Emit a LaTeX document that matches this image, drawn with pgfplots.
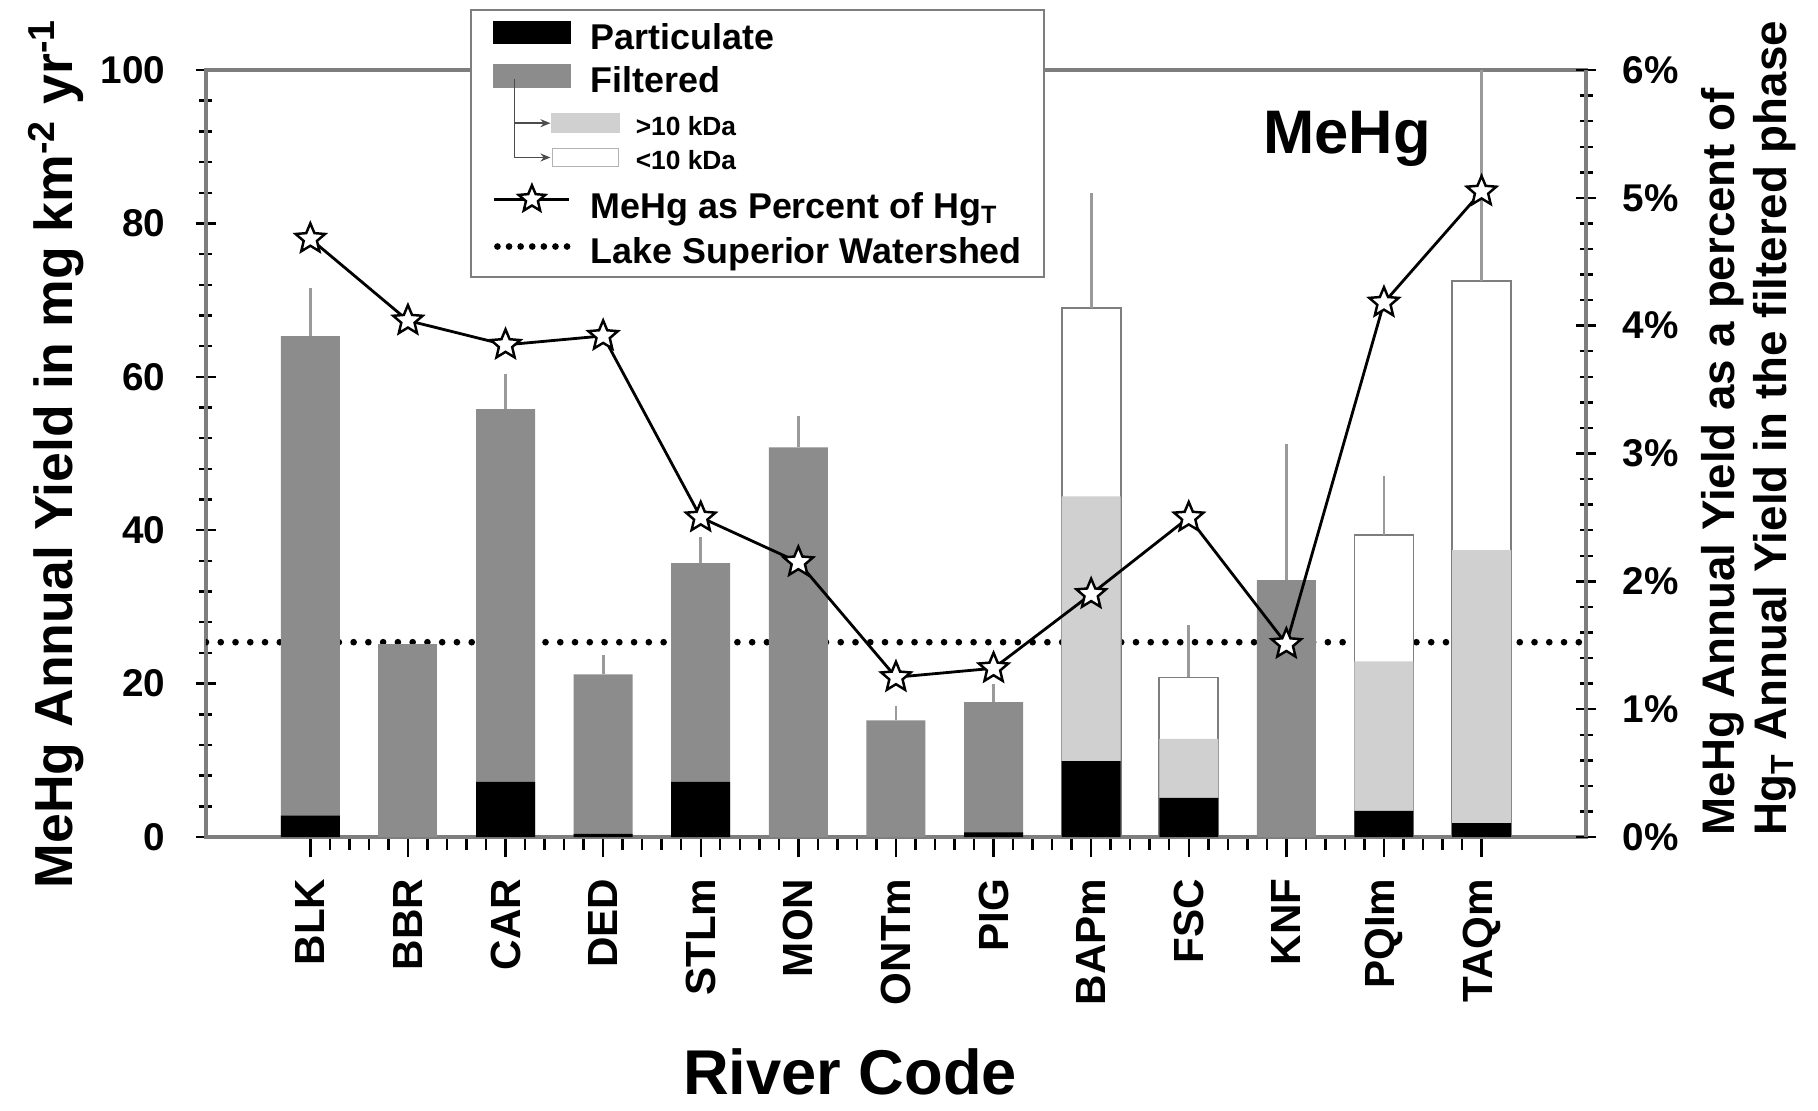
\documentclass[border=0pt]{standalone}
\usepackage{fontspec}
\setmainfont{Liberation Sans}
\usepackage{pgfplots}
\pgfplotsset{compat=1.18}
\usetikzlibrary{arrows.meta}

\definecolor{filt}{HTML}{8C8C8C}
\definecolor{gtten}{HTML}{D0D0D0}
\definecolor{axgray}{HTML}{7E7E7E}
\definecolor{errgray}{HTML}{9A9A9A}

\pgfdeclareplotmark{ostar}{%
  \pgfpathmoveto{\pgfpointpolar{90}{\pgfplotmarksize}}%
  \pgfpathlineto{\pgfpointpolar{126}{0.45\pgfplotmarksize}}%
  \pgfpathlineto{\pgfpointpolar{162}{\pgfplotmarksize}}%
  \pgfpathlineto{\pgfpointpolar{198}{0.45\pgfplotmarksize}}%
  \pgfpathlineto{\pgfpointpolar{234}{\pgfplotmarksize}}%
  \pgfpathlineto{\pgfpointpolar{270}{0.45\pgfplotmarksize}}%
  \pgfpathlineto{\pgfpointpolar{306}{\pgfplotmarksize}}%
  \pgfpathlineto{\pgfpointpolar{342}{0.45\pgfplotmarksize}}%
  \pgfpathlineto{\pgfpointpolar{18}{\pgfplotmarksize}}%
  \pgfpathlineto{\pgfpointpolar{54}{0.45\pgfplotmarksize}}%
  \pgfpathclose
  \pgfusepathqfillstroke
}

\begin{document}
\begin{tikzpicture}
\useasboundingbox (-2.06cm,-2.73cm) rectangle (16.12cm,8.37cm);

\begin{axis}[
  at={(0,0)}, anchor=south west,
  scale only axis, width=13.80cm, height=7.67cm,
  xmin=-0.069, xmax=14.07, ymin=0, ymax=100,
  xtick={1,...,13},
  xticklabels={BLK,BBR,CAR,DED,STLm,MON,ONTm,PIG,BAPm,FSC,KNF,PQIm,TAQm},
  minor x tick num=4,
  ytick={0,20,...,100}, minor y tick num=4,
  xtick pos=bottom, ytick pos=left,
  xtick align=outside, ytick align=center,
  major tick length=0.2cm, minor tick length=0.13cm,
  axis line style={axgray, line width=1pt},
  tick style={black, line width=0.7pt},
  /pgf/number format/assume math mode=true,
  yticklabel style={font=\bfseries\fontsize{11}{13}\selectfont, anchor=east, inner sep=0pt, xshift=-0.3cm},
  xticklabel style={font=\bfseries\fontsize{12}{14}\selectfont, rotate=90, anchor=east, inner sep=0pt},
  xticklabel shift=0.21cm,
  xlabel={River Code},
  xlabel style={font=\bfseries\fontsize{18}{21}\selectfont, at={(axis description cs:0.4667,-0.306)}, anchor=center},
  ylabel={MeHg Annual Yield in mg km\textsuperscript{-2} yr\textsuperscript{-1}},
  ylabel style={font=\bfseries\fontsize{15.25}{17}\selectfont, at={(axis description cs:-0.1087,0.5)}, rotate=0, anchor=center},
  legend cell align=left,
  legend style={at={(0.1913,1.0795)}, anchor=north west, draw=axgray, line width=0.6pt, fill=white,
    inner xsep=0.22cm, inner ysep=0.01cm, column sep=0.18cm, row sep=0pt,
    nodes={inner sep=0pt, font=\bfseries\fontsize{10.2}{11.5}\selectfont}},
  clip=true,
]
% Lake Superior watershed reference line
\addplot[forget plot, black, line width=1.9pt, line cap=round, dash pattern=on 0pt off 4.2pt]
  coordinates {(-0.069,25.4) (14.07,25.4)};

% filtered-only bars (total height) with error bars
\addplot[forget plot, ybar, bar width=0.59cm, bar shift=0pt, fill=filt, draw=none,
  error bars/.cd, y dir=plus, y explicit,
  error bar style={errgray, line width=0.8pt},
  error mark=-, error mark options={errgray, line width=0.8pt, mark size=1.8pt}]
  coordinates {
  (1,65.3) +- (0,5.5)
  (3,55.8) +- (0,3.8)
  (4,21.2) +- (0,1.7)
  (5,35.7) +- (0,2.6)
  (6,50.8) +- (0,3.3)
  (7,15.2) +- (0,1.0)
  (8,17.6) +- (0,1.5)
  (11,33.5) +- (0,16.9)
  };
\addplot[forget plot, ybar, bar width=0.59cm, bar shift=0pt, fill=filt, draw=none]
  coordinates {(2,25.1)};

% fractionated bars: total (<10 kDa on top) with error bars
\addplot[forget plot, ybar, bar width=0.59cm, bar shift=0pt, fill=white, draw=axgray, line width=0.5pt,
  error bars/.cd, y dir=plus, y explicit,
  error bar style={errgray, line width=0.8pt},
  error mark=-, error mark options={errgray, line width=0.8pt, mark size=1.8pt}]
  coordinates {
  (9,69.0) +- (0,14.1)
  (10,20.8) +- (0,6.0)
  (12,39.4) +- (0,6.8)
  (13,72.5) +- (0,30)
  };
% particulate + >10 kDa (cumulative)
\addplot[forget plot, ybar, bar width=0.59cm, bar shift=0pt, fill=gtten, draw=none]
  coordinates {(9,44.4) (10,12.8) (12,22.9) (13,37.4)};
% particulate
\addplot[forget plot, ybar, bar width=0.59cm, bar shift=0pt, fill=black, draw=none]
  coordinates {(1,2.8) (3,7.2) (4,0.4) (5,7.2) (8,0.6) (9,9.9) (10,5.1) (12,3.4) (13,1.8)};

\node[font=\bfseries\fontsize{17.5}{20}\selectfont] at (axis description cs:0.827,0.910) {MeHg};

% legend
\addlegendimage{legend image code/.code={\fill[black] (0cm,-0.105cm) rectangle (0.75cm,0.105cm);}}
\addlegendentry{\rule[-0.14cm]{0pt}{0.52cm}Particulate}
\addlegendimage{legend image code/.code={\fill[filt] (0cm,-0.105cm) rectangle (0.75cm,0.105cm);
  \path (0cm,-0.29cm);}}
\addlegendentry{\rule[-0.14cm]{0pt}{0.52cm}Filtered}
\addlegendimage{legend image code/.code={%
  \draw[overlay, black!70, line width=0.5pt] (0.2cm,0.44cm) -- (0.2cm,0cm);
  \draw[overlay, black!70, line width=0.5pt, -{Stealth[length=1mm,width=0.8mm]}] (0.2cm,0cm) -- (0.56cm,0cm);
  \fill[overlay, gtten] (0.58cm,-0.09cm) rectangle (1.24cm,0.09cm);
  \path (0cm,0cm) (0.75cm,0cm);}}
\addlegendentry{\hspace{0.45cm}\fontsize{7.5}{9}\selectfont\rule[-0.11cm]{0pt}{0.40cm}>10 kDa}
\addlegendimage{legend image code/.code={%
  \draw[overlay, black!70, line width=0.5pt] (0.2cm,0.40cm) -- (0.2cm,0cm);
  \draw[overlay, black!70, line width=0.5pt, -{Stealth[length=1mm,width=0.8mm]}] (0.2cm,0cm) -- (0.56cm,0cm);
  \draw[overlay, black!30, line width=0.4pt, fill=white] (0.58cm,-0.09cm) rectangle (1.24cm,0.09cm);
  \path (0cm,0cm) (0.75cm,0cm);}}
\addlegendentry{\hspace{0.45cm}\fontsize{7.5}{9}\selectfont\rule[-0.11cm]{0pt}{0.40cm}<10 kDa}
\addlegendimage{legend image code/.code={%
  \draw[black, line width=0.8pt, mark=ostar, mark size=1.4mm, mark repeat=2, mark phase=2,
    mark options={fill=white, line width=0.7pt}] plot coordinates {(0cm,0cm) (0.375cm,0cm) (0.75cm,0cm)};}}
\addlegendentry{\rule[-0.14cm]{0pt}{0.58cm}MeHg as Percent of Hg\textsubscript{T}}
\addlegendimage{legend image code/.code={%
  \draw[black, line width=1.9pt, line cap=round, dash pattern=on 0pt off 3.3pt] (0.03cm,0cm) -- (0.75cm,0cm);
  \path (0cm,-0.28cm);}}
\addlegendentry{\rule[-0.14cm]{0pt}{0.54cm}Lake Superior Watershed}
\end{axis}

\begin{axis}[
  at={(0,0)}, anchor=south west,
  scale only axis, width=13.80cm, height=7.67cm,
  xmin=-0.069, xmax=14.07, ymin=0, ymax=6,
  axis x line=none, axis y line*=right,
  ytick={0,1,...,6}, minor y tick num=4,
  ytick align=center,
  major tick length=0.2cm, minor tick length=0.13cm,
  axis line style={axgray, line width=1pt},
  tick style={black, line width=0.7pt},
  /pgf/number format/assume math mode=true,
  yticklabel={\pgfmathprintnumber{\tick}\%},
  yticklabel style={font=\bfseries\fontsize{11}{13}\selectfont, anchor=west, inner sep=0pt, xshift=0.26cm},
  ylabel={MeHg Annual Yield as a percent of\\Hg\textsubscript{T} Annual Yield in the filtered phase},
  ylabel style={font=\bfseries\fontsize{13.0}{14.6}\selectfont, align=left, at={(axis description cs:1.118,0.533)}, rotate=0, anchor=center},
]
\addplot[black, line width=0.8pt, mark=ostar, mark size=1.55mm, mark options={fill=white, line width=0.7pt}]
  coordinates {
  (1,4.68) (2,4.04) (3,3.85) (4,3.92) (5,2.50) (6,2.15) (7,1.25)
  (8,1.32) (9,1.90) (10,2.50) (11,1.51) (12,4.18) (13,5.05)
  };
\end{axis}
\end{tikzpicture}
\end{document}
